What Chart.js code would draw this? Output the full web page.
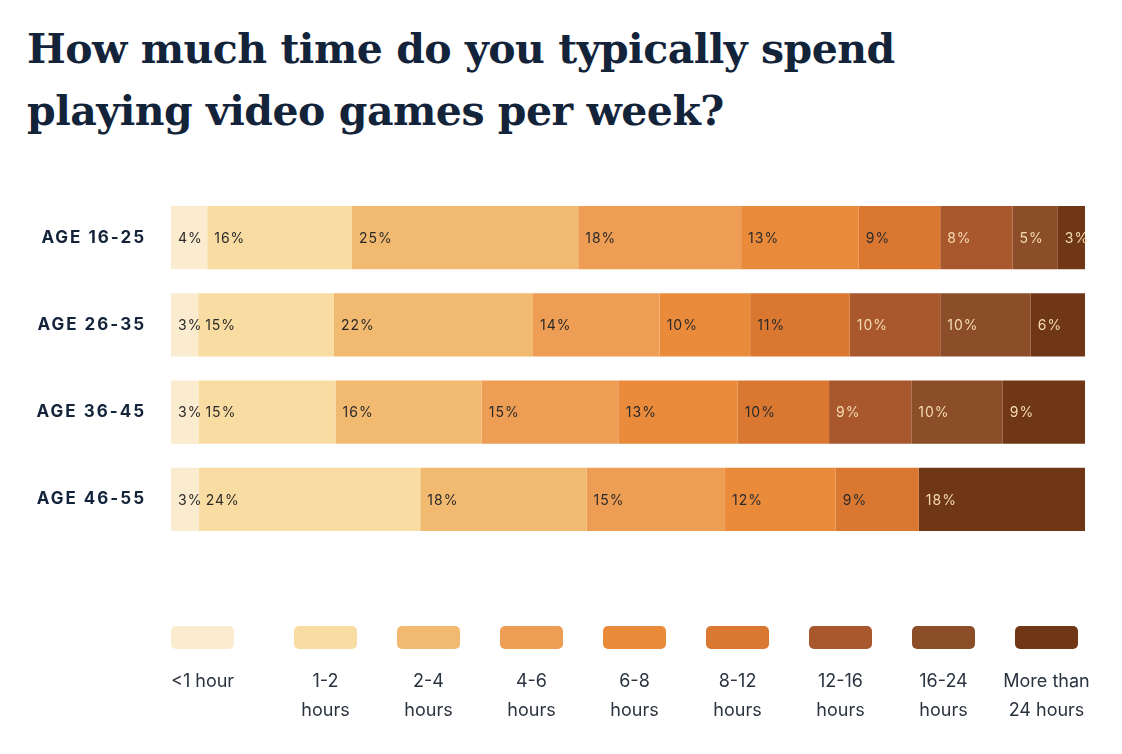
<!DOCTYPE html>
<html>
<head>
<meta charset="utf-8">
<script src="https://cdn.jsdelivr.net/npm/chart.js@4"></script>
<style>
  body { margin: 0; background: #fff; width: 1122px; height: 754px; overflow: hidden; position: relative; }
  h1 { position: absolute; left: 27px; top: 18px; margin: 0; font-family: "DejaVu Serif", serif; font-weight: bold;
       font-size: 41px; line-height: 62px; color: #13243a; letter-spacing: -0.5px; }
  #wrap { position: absolute; left: 0; top: 0; width: 1122px; height: 754px; }
  #legend { position: absolute; left: 171px; top: 626px; display: flex; font-family: Inter, sans-serif; font-size: 18px; color: #2a3340; }
  .item { width: 103px; text-align: center; line-height: 29px; }
  .item:first-child { text-align: left; }
  .sw { width: 63px; height: 23px; border-radius: 5px; margin: 0 auto 17px auto; }
  .item:first-child .sw { margin-left: 0; }
</style>
</head>
<body>
<h1>How much time do you typically spend<br>playing video games per week?</h1>
<div id="wrap"><canvas id="chart"></canvas></div>
<div id="legend"></div>
<script>
const ages = ['AGE 16-25', 'AGE 26-35', 'AGE 36-45', 'AGE 46-55'];
const buckets = ['<1 hour', '1-2 hours', '2-4 hours', '4-6 hours', '6-8 hours', '8-12 hours', '12-16 hours', '16-24 hours', 'More than 24 hours'];
const legendLines = [['<1 hour'], ['1-2', 'hours'], ['2-4', 'hours'], ['4-6', 'hours'], ['6-8', 'hours'], ['8-12', 'hours'], ['12-16', 'hours'], ['16-24', 'hours'], ['More than', '24 hours']];
const colors = ['#fbebcf', '#f8dca2', '#f2b971', '#ed9d54', '#ea8b3c', '#da7832', '#a9572c', '#8b4e28', '#6f3716'];
const lightText = [false, false, false, false, false, false, true, true, true];

// one array per age group, values in %
const age1625 = [4, 16, 25, 18, 13, 9, 8, 5, 3];
const age2635 = [3, 15, 22, 14, 10, 11, 10, 10, 6];
const age3645 = [3, 15, 16, 15, 13, 10, 9, 10, 9];
const age4655 = [3, 24, 18, 15, 12, 9, 0, 0, 18];
const rows = [age1625, age2635, age3645, age4655];

const sums = rows.map(r => r.reduce((a, b) => a + b, 0));
const datasets = buckets.map((b, i) => ({
  label: b,
  data: rows.map((r, j) => r[i] / sums[j] * 100),
  raw: rows.map(r => r[i]),
  backgroundColor: colors[i],
  borderWidth: 0,
  barPercentage: 0.725,
  categoryPercentage: 1
}));

const labelsPlugin = {
  id: 'labels',
  afterDatasetsDraw(chart) {
    const ctx = chart.ctx;
    ctx.save();
    ctx.textBaseline = 'middle';
    ctx.letterSpacing = '1px';
    ctx.font = '14px Inter, sans-serif';
    chart.data.datasets.forEach((ds, i) => {
      chart.getDatasetMeta(i).data.forEach((bar, j) => {
        const v = ds.raw[j];
        if (!v) return;
        const left = Math.min(bar.x, bar.base);
        ctx.fillStyle = lightText[i] ? '#f6dcb4' : '#2a2a2a';
        ctx.textAlign = 'left';
        ctx.fillText(v + '%', left + 7, bar.y + 1);
      });
    });
    const y = chart.scales.y;
    ctx.font = 'bold 17px Inter, sans-serif';
    ctx.letterSpacing = '2px';
    ctx.fillStyle = '#13243a';
    ctx.textAlign = 'right';
    ages.forEach((a, j) => ctx.fillText(a, 146, y.getPixelForValue(j)));
    ctx.restore();
  }
};

new Chart(document.getElementById('chart'), {
  type: 'bar',
  data: { labels: ages, datasets: datasets },
  options: {
    indexAxis: 'y',
    responsive: true,
    maintainAspectRatio: false,
    animation: false,
    layout: { padding: { left: 171, right: 37, top: 194, bottom: 211 } },
    plugins: { legend: { display: false }, tooltip: { enabled: false } },
    scales: {
      x: { stacked: true, min: 0, max: 100, display: false },
      y: { stacked: true, display: false }
    }
  },
  plugins: [labelsPlugin]
});

const legend = document.getElementById('legend');
legendLines.forEach((lines, i) => {
  const d = document.createElement('div');
  d.className = 'item';
  d.innerHTML = '<div class="sw" style="background:' + colors[i] + '"></div>' + lines.join('<br>');
  legend.appendChild(d);
});
</script>
</body>
</html>
